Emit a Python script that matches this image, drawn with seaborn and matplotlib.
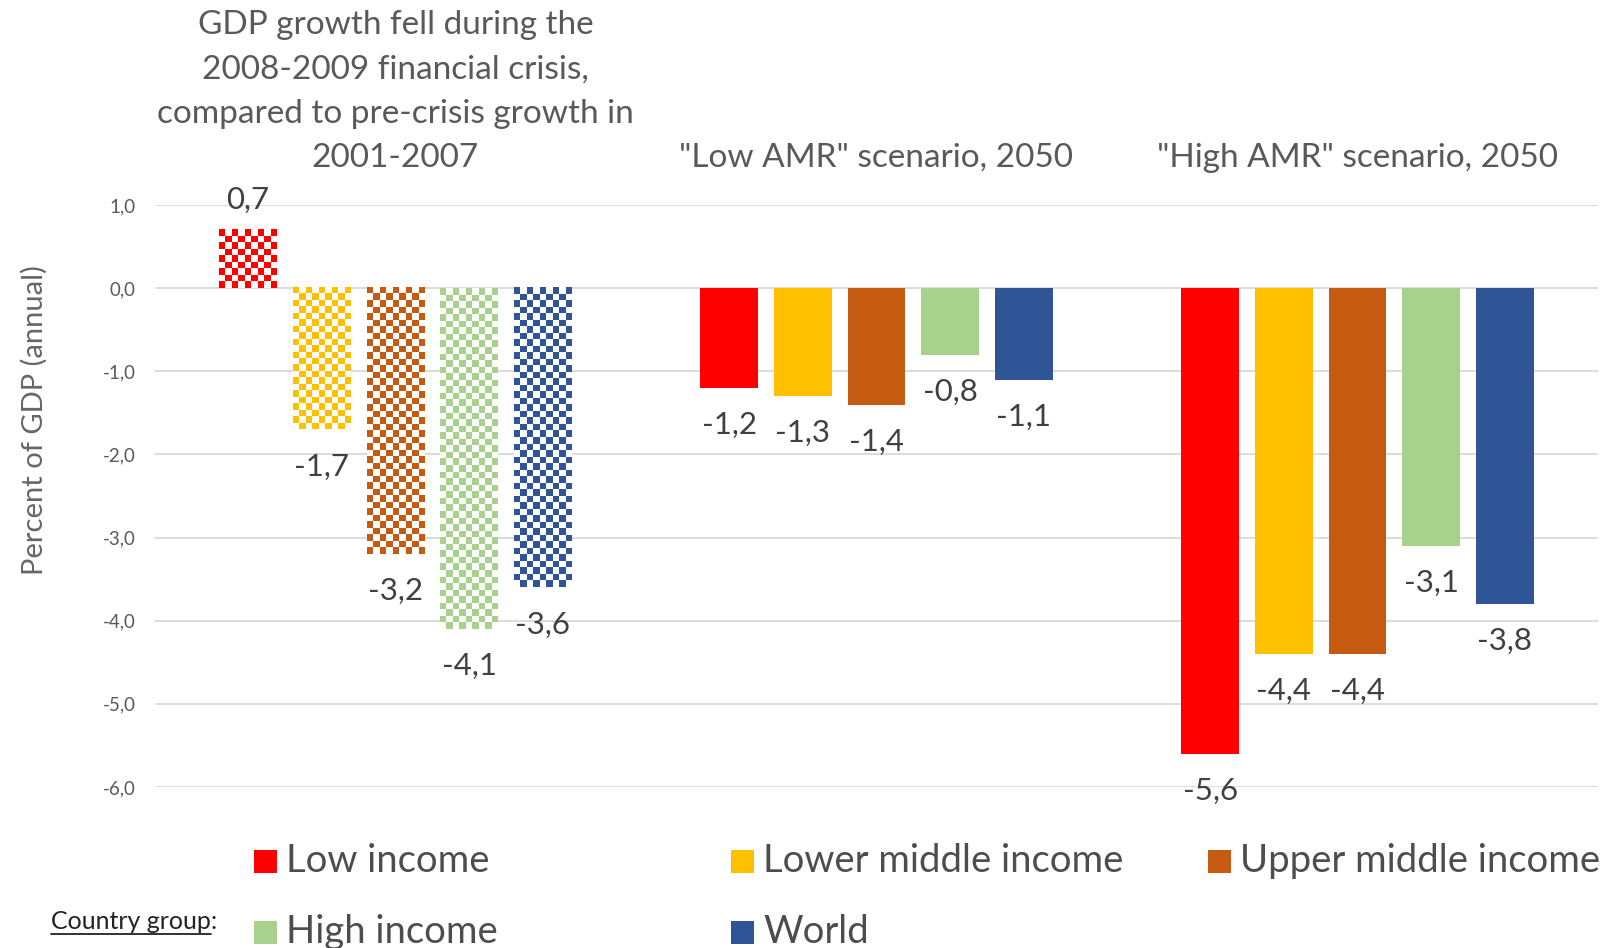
import numpy as np
import pandas as pd
import matplotlib
matplotlib.use("Agg")
import matplotlib.pyplot as plt
import matplotlib.transforms as mtransforms
from matplotlib.patches import Rectangle
from matplotlib.lines import Line2D
from matplotlib.colors import to_rgb
import seaborn as sns

# ---- data -------------------------------------------------------------
scenario_keys = ["crisis", "low_amr", "high_amr"]
scenario_titles = [
    "GDP growth fell during the\n2008-2009 financial crisis,\ncompared to pre-crisis growth in\n2001-2007",
    "\"Low AMR\" scenario, 2050",
    "\"High AMR\" scenario, 2050",
]
groups = ["Low income", "Lower middle income", "Upper middle income", "High income", "World"]
colors = ["#FF0000", "#FFC000", "#C55A11", "#A9D18E", "#2F5597"]

crisis = [0.7, -1.7, -3.2, -4.1, -3.6]
low_amr = [-1.2, -1.3, -1.4, -0.8, -1.1]
high_amr = [-5.6, -4.4, -4.4, -3.1, -3.8]

yticks = [1.0, 0.0, -1.0, -2.0, -3.0, -4.0, -5.0, -6.0]

df = pd.DataFrame({
    "scenario": np.repeat(scenario_keys, len(groups)),
    "group": groups * len(scenario_keys),
    "value": crisis + low_amr + high_amr,
})

# ---- style ------------------------------------------------------------
sns.set_style("white")
plt.rcParams["font.family"] = ["Lato", "DejaVu Sans"]

W, H = 1606, 948
fig = plt.figure(figsize=(W / 100, H / 100), dpi=100)
ax = fig.add_axes([155 / W, 1 - 787 / H, 1443 / W, 582 / H])

sns.barplot(data=df, x="scenario", y="value", hue="group",
            order=scenario_keys, hue_order=groups, palette=colors,
            saturation=1, width=0.766, gap=0.22, errorbar=None,
            linewidth=0, legend=False, ax=ax)

ax.set_xlim(-0.5, 2.5)
ax.set_ylim(-6.0, 1.0)
ax.set_yticks(yticks)
ax.set_yticklabels([f"{t:.1f}".replace(".", ",") for t in yticks])
ax.tick_params(axis="y", length=0, pad=14, labelsize=13.5, labelcolor="#595959")
ax.set_xticks([])
ax.set_xlabel("")
ax.set_ylabel("Percent of GDP (annual)", fontsize=21, color="#666666")
ax.yaxis.set_label_coords(-0.074, 0.63)
ax.grid(axis="y", color="#D9D9D9", linewidth=1.3)
ax.grid(axis="x", visible=False)
ax.set_axisbelow(True)
for s in ax.spines.values():
    s.set_visible(False)

# checkered fill for the financial-crisis bars
cell = 6.5
for cont, col in zip(ax.containers, colors):
    bar = cont[0]
    x0, y0 = bar.get_x(), bar.get_y()
    x1, y1 = x0 + bar.get_width(), y0 + bar.get_height()
    p0 = ax.transData.transform((x0, min(y0, y1)))
    p1 = ax.transData.transform((x1, max(y0, y1)))
    nx = max(1, int(round((p1[0] - p0[0]) / cell)))
    ny = max(1, int(round((p1[1] - p0[1]) / cell)))
    ii, jj = np.indices((ny, nx))
    mask = (ii + jj) % 2 == 0
    img = np.ones((ny, nx, 3))
    img[mask] = to_rgb(col)
    bar.set_facecolor("white")
    ax.imshow(img, extent=(x0, x1, min(y0, y1), max(y0, y1)),
              interpolation="nearest", aspect="auto", zorder=bar.get_zorder() + 0.1)

ax.set_xlim(-0.5, 2.5)
ax.set_ylim(-6.0, 1.0)
ax.set_aspect("auto")

# value labels
for cont in ax.containers:
    for bar in cont:
        v = bar.get_height()
        xc = bar.get_x() + bar.get_width() / 2
        off = 30 if v >= 0 else -37
        ax.annotate(f"{v:.1f}".replace(".", ","), xy=(xc, v), xytext=(0, off),
                    textcoords="offset pixels", ha="center", va="center",
                    fontsize=22.5, color="#404040", annotation_clip=False)

# scenario headings above each group
blend = mtransforms.blended_transform_factory(ax.transData, fig.transFigure)
for i, title in enumerate(scenario_titles):
    fig.text(i, 1 - 167 / H, title, transform=blend, ha="center", va="baseline",
             fontsize=24, color="#595959", linespacing=1.6, multialignment="center")

# legend
for k, (g, c) in enumerate(zip(groups, colors)):
    row, col = divmod(k, 3)
    xs = 254 + col * 477
    yc = 861 + row * 71
    fig.patches.append(Rectangle((xs / W, 1 - (yc + 11.5) / H), 23 / W, 23 / H,
                                 transform=fig.transFigure, facecolor=c,
                                 edgecolor="none"))
    fig.text((xs + 32) / W, 1 - yc / H, g, ha="left", va="center",
             fontsize=27.5, color="#4D4D4D")

t = fig.text(51 / W, 1 - 929 / H, "Country group", ha="left", va="baseline",
             fontsize=18, color="#222222")
fig.canvas.draw()
bb = t.get_window_extent()
fig.text(bb.x1 / W, 1 - 929 / H, ":", ha="left", va="baseline",
         fontsize=18, color="#222222")
fig.lines.append(Line2D([bb.x0 / W, bb.x1 / W], [(bb.y0 - 0.5) / H] * 2,
                        transform=fig.transFigure, color="#222222", linewidth=1.3))

fig.savefig("out.png", dpi=100)
